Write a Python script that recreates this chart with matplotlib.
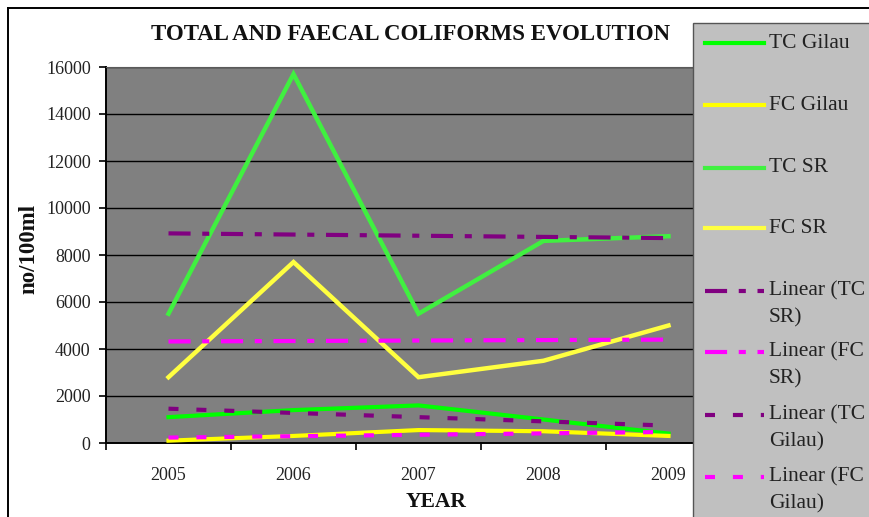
import matplotlib
matplotlib.use('Agg')
import matplotlib.pyplot as plt
from matplotlib.lines import Line2D
from matplotlib.patches import Rectangle
import numpy as np

years = ['2005', '2006', '2007', '2008', '2009']
tc_gilau = [1100, 1400, 1600, 1000, 400]
fc_gilau = [100, 300, 550, 500, 300]
tc_sr = [5500, 15700, 5500, 8600, 8800]
fc_sr = [2800, 7700, 2800, 3500, 5000]

plt.rcParams['font.family'] = ['Liberation Serif', 'DejaVu Serif']

W, H = 869, 517
fig = plt.figure(figsize=(W / 100, H / 100), dpi=100)
fig.patch.set_facecolor('white')


def fx(px):
    return px / W


def fy(py):
    return 1 - py / H


ax = fig.add_axes([fx(106), fy(443), fx(731) - fx(106), fy(67) - fy(443)])
ax.set_facecolor('#808080')

x = np.arange(len(years))

# (label, values, colour, style) for the measured series
series = [
    ('TC Gilau', tc_gilau, '#00ff00', dict(lw=3.0)),
    ('FC Gilau', fc_gilau, '#ffff00', dict(lw=3.0)),
    ('TC SR', tc_sr, '#40f040', dict(lw=3.2)),
    ('FC SR', fc_sr, '#ffff40', dict(lw=3.2)),
]

dashdot = (0, (5.3, 2.8, 1.7, 2.8))
sqdash = (0, (2.4, 4.3))
# linear trendlines fitted on the series above
trends = [
    ('Linear (TC\nSR)', tc_sr, '#800080', dashdot),
    ('Linear (FC\nSR)', fc_sr, '#ff00ff', dashdot),
    ('Linear (TC\nGilau)', tc_gilau, '#800080', sqdash),
    ('Linear (FC\nGilau)', fc_gilau, '#ff00ff', sqdash),
]

for lab, vals, col, kw in series:
    ax.plot(x, vals, color=col, solid_joinstyle='miter', zorder=3, **kw)

for lab, vals, col, ls in trends:
    k, b = np.polyfit(x, vals, 1)
    ax.plot(x, k * x + b, color=col, lw=3.0, ls=ls, dash_capstyle='butt', zorder=4)

ax.set_xlim(-0.5, 4.5)
ax.set_ylim(0, 16000)
ax.set_yticks(np.arange(0, 16001, 2000))
ax.set_yticklabels([str(v) for v in range(0, 16001, 2000)])
ax.set_xticks(x)
ax.set_xticklabels(years)
ax.set_xticks(np.arange(-0.5, 4.0, 1.0), minor=True)
ax.tick_params(axis='x', which='major', length=0, pad=17, labelsize=13, labelcolor='#222222')
ax.tick_params(axis='x', which='minor', length=5, width=1.2, direction='out', color='black')
ax.tick_params(axis='y', length=5, width=1.2, direction='out', pad=6, labelsize=13, labelcolor='#222222')
ax.yaxis.grid(True, color='black', lw=1.0)
ax.set_axisbelow(True)
for side in ('left', 'bottom'):
    ax.spines[side].set_color('black')
    ax.spines[side].set_linewidth(1.4)
ax.spines['top'].set_color('#5a5a5a')
ax.spines['right'].set_visible(False)

fig.text(fx(411), fy(35), 'TOTAL AND FAECAL COLIFORMS EVOLUTION', ha='center', va='center',
         fontsize=16.5, fontweight='bold', color='#111111')
fig.text(fx(436), fy(502), 'YEAR', ha='center', va='center', fontsize=15.5, fontweight='bold', color='#111111')
fig.text(fx(29), fy(249), 'no/100ml', ha='center', va='center', rotation=90, fontsize=16.5,
         fontweight='bold', color='#111111')

# outer chart frame
fig.add_artist(Line2D([fx(8), fx(W)], [fy(8), fy(8)], color='black', lw=1.4, transform=fig.transFigure))
fig.add_artist(Line2D([fx(8), fx(8)], [fy(8), fy(H)], color='black', lw=1.4, transform=fig.transFigure))

# legend panel
fig.add_artist(Rectangle((fx(693), fy(H + 5)), fx(200), fy(23) - fy(H + 5), transform=fig.transFigure,
                         facecolor='#c0c0c0', edgecolor='#555555', lw=1.0, zorder=5))

entries = [(lab, col, '-', 3.0) for lab, _, col, _ in series]
entries += [(lab, col, ls, 3.0) for lab, _, col, ls in trends]
row_y = [43, 105, 168, 228, 291, 352, 415, 477]
for (lab, col, ls, lw), yy in zip(entries, row_y):
    fig.add_artist(Line2D([fx(705), fx(764)], [fy(yy), fy(yy)], color=col, lw=lw, ls=ls,
                          dash_capstyle='butt', transform=fig.transFigure, zorder=6))
    for i, line in enumerate(lab.split('\n')):
        fig.text(fx(769), fy(yy + 27 * i), line, ha='left', va='center', fontsize=15.5,
                 color='#222222', zorder=7)

fig.savefig('out.png', dpi=100)
